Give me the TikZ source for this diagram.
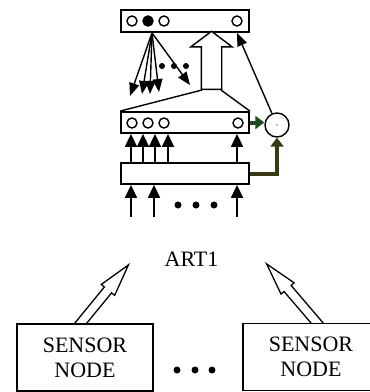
\documentclass[tikz,border=0pt]{standalone}
\usepackage{fontspec}
\setmainfont{Liberation Serif}
\usepackage{xcolor}
\definecolor{rgreen}{HTML}{1E4D1E}
\definecolor{rolive}{HTML}{3A3A12}
\usetikzlibrary{arrows.meta, positioning, shapes.arrows, calc, backgrounds}

\begin{document}
\begin{tikzpicture}[x=1pt, y=-1pt,
    every node/.style={font=\fontsize{22}{25}\selectfont},
    layer/.style={draw, line width=1.8pt, minimum width=128pt,
                  minimum height=21pt, inner sep=0pt},
    unit/.style={circle, draw, line width=1.4pt, minimum size=10pt, inner sep=0pt},
    upar/.style={line width=1.6pt, -{Triangle[length=13pt, width=12pt]}},
    fanar/.style={line width=1.4pt, -{Triangle[length=13pt, width=10pt]}},
    fatar/.style={line width=4pt, -{Triangle[length=9pt, width=13pt]}},
    hollow/.style={single arrow, draw, fill=white, line width=1.3pt, inner sep=4pt,
                   single arrow head extend=4pt, single arrow tip angle=30,
                   minimum height=90pt},
    sensorbox/.style={draw, fill=white, line width=1.5pt, minimum width=136pt,
                      minimum height=67pt, align=center},
]
\path[use as bounding box, clip] (0,0) rectangle (370,392);

% --- F2 layer (top) ---
\node[layer, minimum height=22pt] (ftwo) at (185,21) {};
\foreach \x/\f [count=\i] in {132/white, 148/black, 164/white, 237/white}
  \node[unit, fill=\f] (ftwo\i) at (\x,21) {};

% --- F1 layer ---
\node[layer] (fone) at (185,122.5) {};
\foreach \x [count=\i] in {132,148,164,238}
  \node[unit] (fone\i) at (\x,123) {};

% --- input layer ---
\node[layer] (inp) at (185,173.5) {};
\foreach \x in {131,143,155,168,237}
  \draw[upar] (inp.north -| \x,0) -- (fone.south -| \x,0);

% input signals
\foreach \x [count=\i] in {131,154,237} {
  \coordinate (in\i) at (\x,217);
  \draw[upar] (in\i) -- (inp.south -| in\i);
}
\foreach \x in {178,196,214} \fill (\x,205) circle (3.5);

% --- top-down fan from the winning F2 unit ---
\coordinate (fan) at (ftwo.south -| 152,0);
\foreach \tx/\ty in {130/96, 142/94, 150/94, 159/92, 190/85}
  \draw[fanar] (fan) -- (\tx,\ty);
\foreach \x in {162,174,186} \fill (\x,66) circle (3);

% --- big hollow arrow F1 -> F2 with funnel ---
\node[single arrow, draw, fill=white, line width=1.4pt, rotate=90, anchor=tail,
      inner sep=9.5pt, single arrow head extend=10.5pt,
      single arrow tip angle=106, minimum height=58pt] (big) at (211.5,90) {};
\draw[line width=1.4pt] (fone.north west) -- ($(big.tail)+(-9.5,0)$);
\draw[line width=1.4pt] (fone.north east) -- ($(big.tail)+(9.5,0)$);

% --- orienting subsystem ---
\node[circle, draw, line width=1.4pt, minimum size=24pt, inner sep=0pt] (rst) at (277,125) {};
\fill (rst) circle (0.7);
\draw[fatar, rgreen] (fone.east) -- (fone.east -| rst.west);
\draw[fatar, rolive] (inp.east) -| (rst.south);
\draw[fanar] (rst) -- (ftwo.south -| ftwo4);

% --- ART1 and the sensor nodes ---
\node (art) at (191.5,259) {ART1};
\coordinate (tipl) at (130,263);
\coordinate (tipr) at (265,262);
\node[hollow, rotate=50.7, anchor=tip] (hl) at (tipl) {};
\node[hollow, rotate=130.5, anchor=tip] (hr) at (tipr) {};

\node[sensorbox] (sl) at (85,357.5) {SENSOR\\NODE};
\node[sensorbox] (sr) at (311,357) {SENSOR\\NODE};
\foreach \x in {177,195,212} \fill (\x,370) circle (3.5);
\end{tikzpicture}
\end{document}
